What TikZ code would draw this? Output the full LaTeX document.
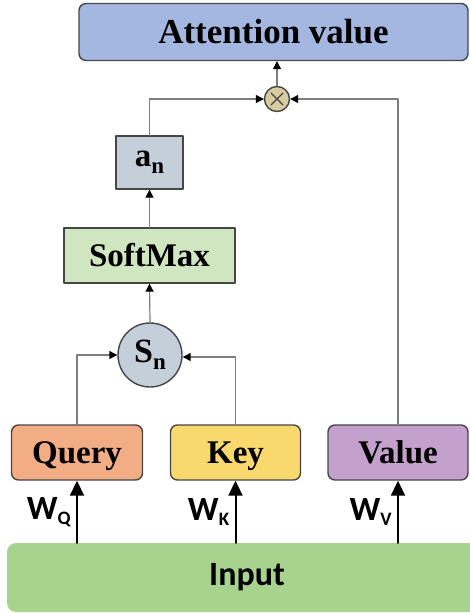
\documentclass[tikz,border=0pt]{standalone}
\usepackage{fontspec}
\setmainfont{Liberation Serif}
\newfontfamily\calibfont{Carlito}
\usetikzlibrary{arrows.meta}

\definecolor{attblue}{RGB}{164,183,225}
\definecolor{multtan}{RGB}{216,204,160}
\definecolor{greyblue}{RGB}{196,207,217}
\definecolor{softgreen}{RGB}{208,230,193}
\definecolor{queryorange}{RGB}{242,173,132}
\definecolor{keyyellow}{RGB}{249,217,110}
\definecolor{valuepurple}{RGB}{196,160,204}
\definecolor{inputgreen}{RGB}{168,211,142}
\definecolor{edgegray}{RGB}{70,70,70}
\definecolor{linegray}{RGB}{125,125,125}

\newcommand{\lowsub}[1]{\raisebox{-7pt}{\fontsize{23}{23}\selectfont #1}}
\newcommand{\wsub}[1]{\raisebox{-5pt}{\fontsize{19}{19}\selectfont #1}}

\begin{document}
\begin{tikzpicture}[x=1pt, y=-1pt, line cap=round, line join=round,
    box/.style={draw=edgegray, line width=1.4pt, rounded corners=7pt,
                inner sep=0pt, text height=22pt, text depth=0pt,
                font=\fontsize{33}{36}\selectfont\bfseries},
    sqbox/.style={draw=edgegray, line width=1.4pt, inner sep=0pt,
                  font=\fontsize{33}{36}\selectfont\bfseries},
    op/.style={circle, draw=edgegray, line width=1.4pt, inner sep=0pt},
    flow/.style={draw=linegray, line width=1.2pt,
                 -{Triangle[length=8pt, width=8pt, color=black]}},
    proj/.style={line width=2pt, -{Triangle[length=15pt, width=14pt]}},
    wlabel/.style={font=\calibfont\fontsize{34}{36}\selectfont\bfseries}]
  \useasboundingbox (0,0) rectangle (470,613);

  % ---- Output ----
  \node[box, fill=attblue, minimum width=389pt, minimum height=57pt,
        font=\fontsize{35}{38}\selectfont\bfseries]
        (att) at (273.5,32) {Attention value};
  \node[op, fill=multtan, minimum size=25pt,
        path picture={\draw[line width=1.3pt, edgegray]
          ([shift={(-6pt,-6pt)}]path picture bounding box.center) --
          ([shift={(6pt,6pt)}]path picture bounding box.center)
          ([shift={(-6pt,6pt)}]path picture bounding box.center) --
          ([shift={(6pt,-6pt)}]path picture bounding box.center);}]
        (mult) at (277,99) {};

  % ---- Score path ----
  \node[sqbox, fill=greyblue, minimum width=67pt, minimum height=53pt]
        (an) at (149.5,162.5) {a\lowsub{n}};
  \node[sqbox, fill=softgreen, minimum width=171pt, minimum height=55pt]
        (soft) at (149.5,255.5) {SoftMax};
  \node[op, fill=greyblue, minimum size=64pt,
        font=\fontsize{34}{36}\selectfont\bfseries]
        (sn) at (150,355) {S\lowsub{n}};

  % ---- Projections ----
  \node[box, fill=queryorange, minimum width=131pt, minimum height=55pt]
        (query) at (77,452.5) {Query};
  \node[box, fill=keyyellow, minimum width=130pt, minimum height=55pt]
        (key) at (235.5,452.5) {Key};
  \node[box, fill=valuepurple, minimum width=140pt, minimum height=55pt]
        (value) at (398,452.5) {Value};

  % Input bar (runs past the right edge)
  \node[fill=inputgreen, rounded corners=9pt, minimum width=480pt,
        minimum height=69pt, inner sep=0pt,
        font=\calibfont\fontsize{34}{36}\selectfont\bfseries]
        (input) at (247,577.5) {Input};

  % ---- Connectors ----
  \draw[flow] (mult.north) -- (att.south -| mult.north);
  \draw[flow] (an.north) |- (mult.west);
  \draw[flow] (value.north) |- (mult.east);
  \draw[flow] (soft.north) -- (an.south);
  \draw[flow] (sn.north) -- (soft.south);
  \draw[flow] (query.north) |- (sn.west);
  \draw[flow] (key.north) |- ([yshift=-2pt]sn.east);

  % Weight matrices
  \foreach \nm/\w in {query/Q, key/K, value/V}
    \draw[proj] (input.north -| \nm.south) -- (\nm.south)
      node[midway, left=2pt, wlabel] {W\wsub{\w}};
\end{tikzpicture}
\end{document}
